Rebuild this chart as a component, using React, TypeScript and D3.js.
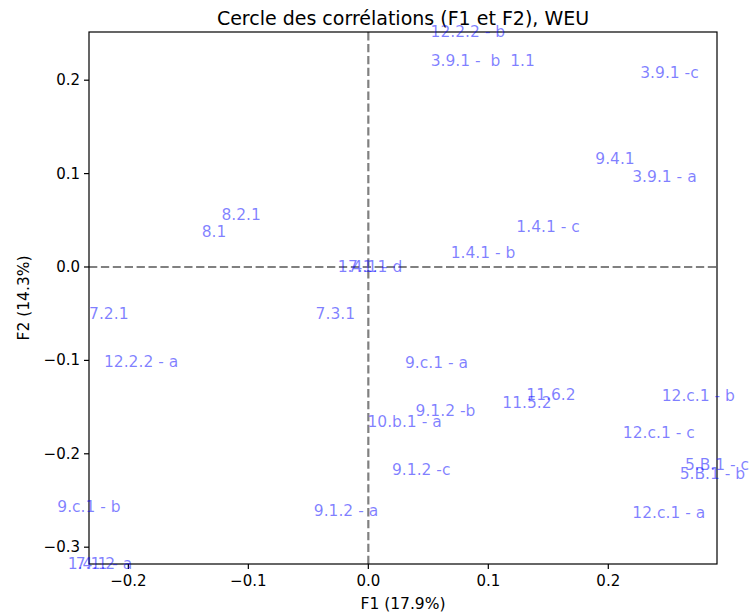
import React from "react";
import * as d3 from "d3";

const labels = [
  "12.2.2 - b", "3.9.1 -  b", "1.1", "3.9.1 -c", "9.4.1", "3.9.1 - a",
  "8.2.1", "8.1", "1.4.1 - c", "1.4.1 - b", "1.4.1 - d", "7.1.1",
  "7.2.1", "7.3.1", "12.2.2 - a", "9.c.1 - a", "11.6.2", "11.5.2",
  "12.c.1 - b", "9.1.2 -b", "10.b.1 - a", "12.c.1 - c", "9.1.2 -c",
  "5.B.1 - c", "5.B.1 - b", "12.c.1 - a", "9.1.2 - a", "9.c.1 - b",
  "1.4.1 - a", "7.1.2",
];
const f1 = [
  0.083, 0.081, 0.1285, 0.251, 0.2056, 0.2468,
  -0.106, -0.1286, 0.1498, 0.0956, 0.0014, -0.0005,
  -0.2163, -0.0275, -0.1894, 0.0568, 0.1522, 0.1322,
  0.275, 0.0643, 0.0302, 0.2421, 0.0441,
  0.2906, 0.2868, 0.2504, -0.0186, -0.2328,
  -0.2236, -0.2274,
];
const f2 = [
  0.2516, 0.2206, 0.2206, 0.2077, 0.1156, 0.0964,
  0.0557, 0.0371, 0.0425, 0.0153, 0.0003, 0.0003,
  -0.0503, -0.0503, -0.102, -0.1028, -0.137, -0.1453,
  -0.1381, -0.1538, -0.1656, -0.178, -0.2173,
  -0.212, -0.222, -0.263, -0.261, -0.2573,
  -0.318, -0.318,
];
const xTicks = [-0.2, -0.1, 0.0, 0.1, 0.2];
const yTicks = [-0.3, -0.2, -0.1, 0.0, 0.1, 0.2];

const W = 750, H = 616;
const L = 89, R = 717, T = 32, B = 564;
const FONT = "DejaVu Sans, sans-serif";

const fmt = (v: number) => {
  const s = Math.abs(v).toFixed(1);
  return v < -1e-9 ? "\u2212" + s : s;
};

export default function App() {
  const x = d3.scaleLinear().domain([d3.min(f1)!, d3.max(f1)!]).range([L, R]);
  const y = d3.scaleLinear().domain([d3.min(f2)!, d3.max(f2)!]).range([B, T]);
  return (
    <svg width={W} height={H} style={{ position: "absolute", left: 0, top: 0 }} fontFamily={FONT}>
      <rect width={W} height={H} fill="white" />
      <text x={(L + R) / 2} y={17.5} fontSize={19} textAnchor="middle" dominantBaseline="central" fill="black">
        Cercle des corrélations (F1 et F2), WEU
      </text>
      <line x1={L} x2={R} y1={y(0)} y2={y(0)} stroke="grey" strokeWidth={2.2} strokeDasharray="8.3,3.6" />
      <line x1={x(0)} x2={x(0)} y1={B} y2={T} stroke="grey" strokeWidth={2.2} strokeDasharray="8.3,3.6" />
      <rect x={L} y={T} width={R - L} height={B - T} fill="none" stroke="black" strokeWidth={1.2} />
      {xTicks.map((t) => (
        <g key={"x" + t}>
          <line x1={x(t)} x2={x(t)} y1={B} y2={B + 5} stroke="black" strokeWidth={1.2} />
          <text x={x(t)} y={B + 17} fontSize={15} textAnchor="middle" dominantBaseline="central" fill="black">
            {fmt(t)}
          </text>
        </g>
      ))}
      {yTicks.map((t) => (
        <g key={"y" + t}>
          <line x1={L - 5} x2={L} y1={y(t)} y2={y(t)} stroke="black" strokeWidth={1.2} />
          <text x={L - 9} y={y(t)} fontSize={15} textAnchor="end" dominantBaseline="central" fill="black">
            {fmt(t)}
          </text>
        </g>
      ))}
      <text x={(L + R) / 2} y={604} fontSize={15.5} textAnchor="middle" dominantBaseline="central" fill="black">
        F1 (17.9%)
      </text>
      <text
        transform={`translate(24,${(T + B) / 2}) rotate(-90)`}
        fontSize={15.5}
        textAnchor="middle"
        dominantBaseline="central"
        fill="black"
      >
        F2 (14.3%)
      </text>
      {labels.map((lab, i) => (
        <text
          key={i}
          x={x(f1[i])}
          y={y(f2[i])}
          fontSize={15.5}
          textAnchor="middle"
          dominantBaseline="central"
          fill="blue"
          fillOpacity={0.5}
          style={{ whiteSpace: "pre" }}
        >
          {lab}
        </text>
      ))}
    </svg>
  );
}
